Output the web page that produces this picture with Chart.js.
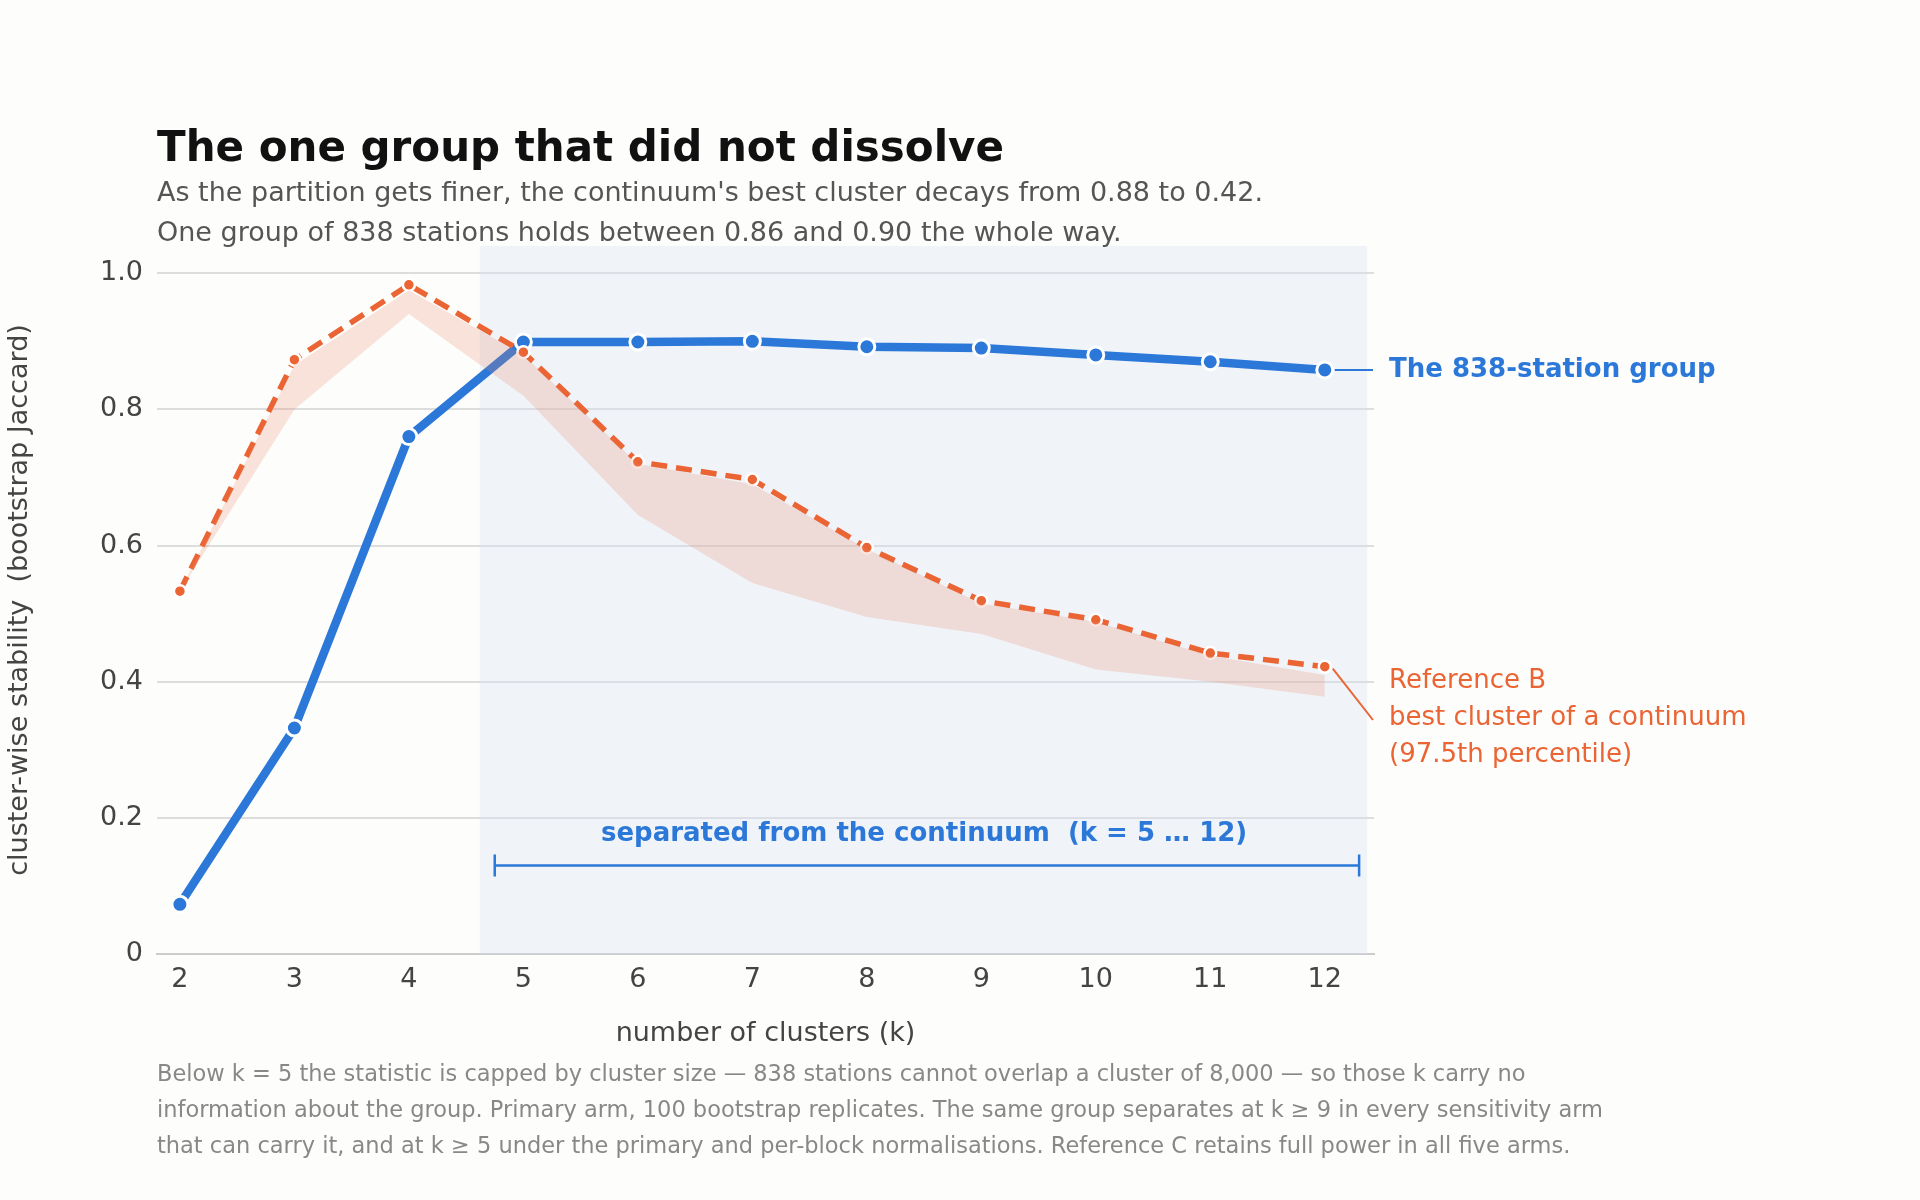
<!DOCTYPE html>
<html><head><meta charset="utf-8">
<script src="https://cdn.jsdelivr.net/npm/chart.js@4.4.1/dist/chart.umd.min.js"></script>
<style>
  body { margin:0; background:#fdfdfc; font-family:"DejaVu Sans", sans-serif; }
  #wrap { position:relative; width:1920px; height:1200px; }
  canvas { position:absolute; left:0; top:0; }
  .t { position:absolute; left:157px; white-space:nowrap; }
  #title { top:122px; font-size:42px; font-weight:bold; color:#111; }
  #sub { top:172px; font-size:27px; line-height:40px; color:#555; }
  #foot { top:1055px; font-size:22.5px; line-height:36px; color:#888; }
</style></head>
<body><div id="wrap">
<canvas id="c" width="1920" height="1200"></canvas>
<div class="t" id="title">The one group that did not dissolve</div>
<div class="t" id="sub">As the partition gets finer, the continuum's best cluster decays from 0.88 to 0.42.<br>One group of 838 stations holds between 0.86 and 0.90 the whole way.</div>
<div class="t" id="foot">Below k = 5 the statistic is capped by cluster size — 838 stations cannot overlap a cluster of 8,000 — so those k carry no<br>information about the group. Primary arm, 100 bootstrap replicates. The same group separates at k ≥ 9 in every sensitivity arm<br>that can carry it, and at k ≥ 5 under the primary and per-block normalisations. Reference C retains full power in all five arms.</div>
</div>
<script>
const K = [2, 3, 4, 5, 6, 7, 8, 9, 10, 11, 12];
const groupStability = [0.073, 0.332, 0.760, 0.899, 0.899, 0.900, 0.892, 0.890, 0.880, 0.870, 0.858];
const refBest = [0.533, 0.873, 0.983, 0.884, 0.723, 0.697, 0.597, 0.519, 0.491, 0.442, 0.422];
const refBandLow = [0.533, 0.800, 0.940, 0.820, 0.645, 0.545, 0.495, 0.470, 0.418, 0.400, 0.378];
const refBandHigh = [0.533, 0.865, 0.975, 0.880, 0.720, 0.690, 0.595, 0.515, 0.488, 0.438, 0.410];
const yTicks = [0, 0.2, 0.4, 0.6, 0.8, 1.0];

const BLUE = "#2b78d9", ORANGE = "#ea6434", FONT = "DejaVu Sans";
const pts = arr => K.map((k, i) => ({ x: k, y: arr[i] }));

const decor = {
  id: "decor",
  beforeDatasetsDraw(chart) {
    const { ctx, scales: { x, y } } = chart;
    ctx.save();
    ctx.fillStyle = "rgba(214,226,244,0.35)";
    ctx.fillRect(x.getPixelForValue(4.62), y.getPixelForValue(1.04),
      x.getPixelForValue(12.37) - x.getPixelForValue(4.62), y.getPixelForValue(0) - y.getPixelForValue(1.04));
    ctx.restore();
  },
  afterDatasetsDraw(chart) {
    const { ctx, scales: { x, y } } = chart;
    ctx.save();
    // bracket
    const x0 = x.getPixelForValue(4.75), x1 = x.getPixelForValue(12.3), yb = y.getPixelForValue(0.13);
    ctx.strokeStyle = BLUE; ctx.lineWidth = 2.5;
    ctx.beginPath();
    ctx.moveTo(x0, yb); ctx.lineTo(x1, yb);
    ctx.moveTo(x0, yb - 11); ctx.lineTo(x0, yb + 11);
    ctx.moveTo(x1, yb - 11); ctx.lineTo(x1, yb + 11);
    ctx.stroke();
    ctx.fillStyle = BLUE; ctx.font = "bold 26px " + FONT; ctx.textAlign = "center"; ctx.textBaseline = "middle";
    ctx.fillText("separated from the continuum  (k = 5 … 12)", x.getPixelForValue(8.5), y.getPixelForValue(0.176));
    // right labels
    const xe = x.getPixelForValue(12), lx = 1389;
    const yg = y.getPixelForValue(groupStability[10]);
    ctx.beginPath(); ctx.lineWidth = 2; ctx.moveTo(xe + 10, yg); ctx.lineTo(lx - 16, yg); ctx.stroke();
    ctx.textAlign = "left";
    ctx.fillText("The 838-station group", lx, yg);
    ctx.strokeStyle = ORANGE; ctx.fillStyle = ORANGE;
    ctx.beginPath(); ctx.moveTo(xe + 8, y.getPixelForValue(refBest[10]) + 2); ctx.lineTo(lx - 16, 720); ctx.stroke();
    ctx.font = "26px " + FONT;
    ["Reference B", "best cluster of a continuum", "(97.5th percentile)"].forEach((s, i) => ctx.fillText(s, lx, 681 + i * 37));
    ctx.restore();
  }
};

new Chart(document.getElementById("c"), {
  type: "line",
  data: {
    datasets: [
      { data: pts(refBandLow), borderWidth: 0, pointRadius: 0, fill: "+1", backgroundColor: "rgba(234,130,100,0.22)" },
      { data: pts(refBandHigh), borderWidth: 0, pointRadius: 0, fill: false },
      { data: pts(refBest), borderColor: ORANGE, borderWidth: 5.5, borderDash: [16, 9],
        pointRadius: 6, pointBackgroundColor: ORANGE, pointBorderColor: "#fff", pointBorderWidth: 2.5 },
      { data: pts(groupStability), borderColor: BLUE, borderWidth: 8.5,
        pointRadius: 8, pointBackgroundColor: BLUE, pointBorderColor: "#fff", pointBorderWidth: 3 }
    ]
  },
  options: {
    responsive: false, animation: false,
    layout: { padding: { left: 0, top: 246, right: 546, bottom: 146 } },
    plugins: { legend: { display: false }, tooltip: { enabled: false } },
    scales: {
      x: {
        type: "linear", min: 1.8, max: 12.43,
        afterBuildTicks: s => { s.ticks = K.map(v => ({ value: v })); },
        afterFit: s => { s.height = 100; },
        grid: { display: false, drawTicks: false },
        border: { color: "#cccccc", width: 2 },
        ticks: { color: "#444", font: { family: FONT, size: 27 }, padding: 10 },
        title: { display: true, text: "number of clusters (k)", color: "#444", font: { family: FONT, size: 27 }, padding: { top: 22 } }
      },
      y: {
        min: 0, max: 1.04,
        afterBuildTicks: s => { s.ticks = yTicks.map(v => ({ value: v })); },
        afterFit: s => { s.width = 157; },
        grid: { color: "#dddddd", lineWidth: 2, drawTicks: false },
        border: { display: false },
        ticks: { color: "#444", font: { family: FONT, size: 27 }, padding: 14,
          callback: v => v === 0 ? "0" : v.toFixed(1) },
        title: { display: true, text: "cluster-wise stability  (bootstrap Jaccard)", color: "#444", font: { family: FONT, size: 27 }, padding: { bottom: 14 } }
      }
    }
  },
  plugins: [decor]
});
</script>
</body></html>
